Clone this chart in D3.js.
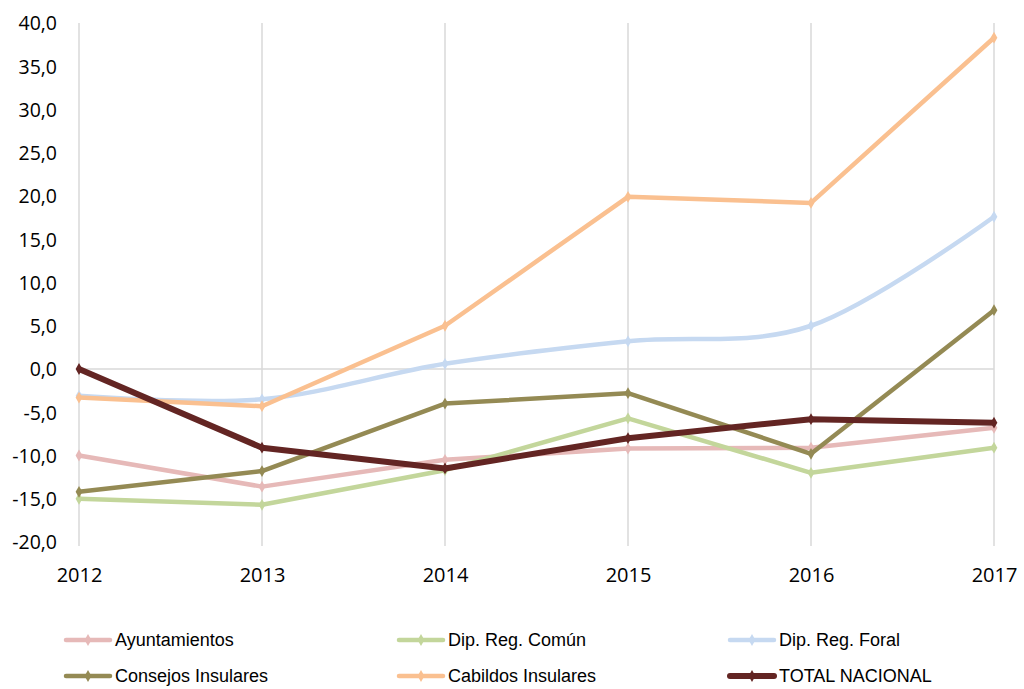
<!DOCTYPE html>
<html><head><meta charset="utf-8">
<script src="https://cdn.jsdelivr.net/npm/d3@7"></script>
<style>body{margin:0;background:#fff}</style>
</head><body>
<svg id="c" width="1024" height="689"></svg>
<script>
const years = [2012, 2013, 2014, 2015, 2016, 2017];
const yTicks = [-20, -15, -10, -5, 0, 5, 10, 15, 20, 25, 30, 35, 40];
const ayuntamientos = [-10.0, -13.6, -10.5, -9.2, -9.1, -6.8];
const dipComun = [-15.0, -15.7, -11.7, -5.7, -12.0, -9.1];
const dipForal = [-3.1, -3.5, 0.6, 3.2, 5.0, 17.6];
const consejos = [-14.2, -11.8, -4.0, -2.8, -9.8, 6.8];
const cabildos = [-3.3, -4.3, 5.0, 19.9, 19.2, 38.3];
const total = [0.0, -9.1, -11.5, -8.0, -5.8, -6.2];

const series = [
  {name: "Ayuntamientos", values: ayuntamientos, color: "#e6b9b8", w: 4.5, smooth: false},
  {name: "Dip. Reg. Común", values: dipComun, color: "#c3d69b", w: 4.5, smooth: false},
  {name: "Dip. Reg. Foral", values: dipForal, color: "#c6d9f1", w: 4.5, smooth: true},
  {name: "Consejos Insulares", values: consejos, color: "#948a54", w: 4.5, smooth: false},
  {name: "Cabildos Insulares", values: cabildos, color: "#fac090", w: 4.5, smooth: false},
  {name: "TOTAL NACIONAL", values: total, color: "#632523", w: 6, smooth: false}
];
const drawOrder = [0, 1, 2, 3, 4, 5];

const svg = d3.select("#c");
const x = d3.scalePoint().domain(years).range([79, 994]);
const y = d3.scaleLinear().domain([-20, 40]).range([542, 23]);

// vertical gridlines
svg.append("g").selectAll("line").data(years).join("line")
  .attr("x1", d => x(d)).attr("x2", d => x(d))
  .attr("y1", y(40)).attr("y2", y(-20) + 4)
  .attr("stroke", "#d9d9d9").attr("stroke-width", 1.5);
// zero line
svg.append("line").attr("x1", x(2012)).attr("x2", x(2017))
  .attr("y1", y(0)).attr("y2", y(0)).attr("stroke", "#d9d9d9").attr("stroke-width", 1.5);

// y axis labels
const yAxis = d3.axisLeft(y).tickValues(yTicks).tickSize(0).tickPadding(0)
  .tickFormat(d => d3.format(".1f")(d).replace(".", ",").replace("−", "-"));
const ga = svg.append("g").attr("transform", "translate(57,0)").call(yAxis);
ga.select(".domain").remove();
ga.selectAll("text").attr("font-family", "'Open Sans', sans-serif").attr("font-size", 19.5)
  .attr("font-weight", 500).attr("fill", "#000").attr("dy", "0.35em");

// x axis labels
const xAxis = d3.axisBottom(x).tickSize(0).tickPadding(0);
const gx = svg.append("g").attr("transform", "translate(0,567)").call(xAxis);
gx.select(".domain").remove();
gx.selectAll("text").attr("font-family", "'Open Sans', sans-serif").attr("font-size", 20)
  .attr("font-weight", 500).attr("fill", "#000").attr("dy", "0.75em");

const diamond = d3.symbol().type(d3.symbolDiamond).size(40);

drawOrder.forEach(i => {
  const s = series[i];
  const line = d3.line().x((d, j) => x(years[j])).y(d => y(d))
    .curve(s.smooth ? d3.curveCardinal.tension(0) : d3.curveLinear);
  svg.append("path").attr("d", line(s.values)).attr("fill", "none")
    .attr("stroke", s.color).attr("stroke-width", s.w).attr("stroke-linejoin", "round");
  svg.append("g").selectAll("path").data(s.values).join("path")
    .attr("d", diamond).attr("transform", (d, j) => `translate(${x(years[j])},${y(d)})`)
    .attr("fill", s.color);
});

// legend
const legX = [66, 399, 730];
const legY = [640, 676];
series.forEach((s, i) => {
  const lx = legX[i % 3], ly = legY[Math.floor(i / 3)];
  const g = svg.append("g").attr("transform", `translate(${lx},${ly})`);
  g.append("line").attr("x1", 0).attr("x2", 44).attr("y1", 0).attr("y2", 0)
    .attr("stroke", s.color).attr("stroke-width", s.w).attr("stroke-linecap", "round");
  g.append("path").attr("d", diamond).attr("transform", "translate(22,0)").attr("fill", s.color);
  g.append("text").attr("x", 49).attr("y", 0).attr("dy", "0.35em")
    .attr("font-family", "'Liberation Sans', Arial, sans-serif").attr("font-size", 18)
    .attr("fill", "#000").text(s.name);
});
</script>
</body></html>
